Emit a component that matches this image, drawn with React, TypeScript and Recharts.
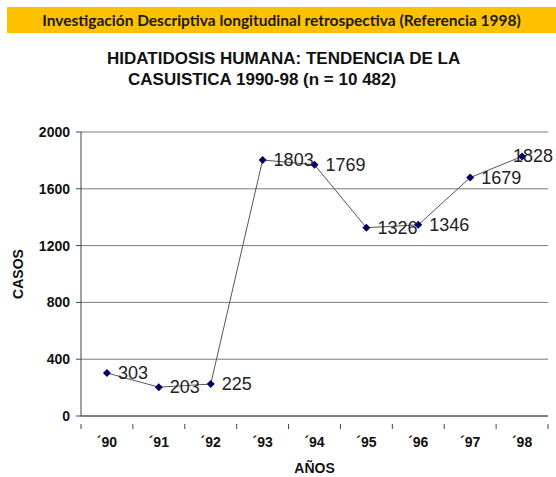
import { LineChart, Line, XAxis, YAxis, CartesianGrid, LabelList } from 'recharts'

const years = ['´90', '´91', '´92', '´93', '´94', '´95', '´96', '´97', '´98']
const cases = [303, 203, 225, 1803, 1769, 1326, 1346, 1679, 1828]
const yTicks = [0, 400, 800, 1200, 1600, 2000]

const data = years.map((year, i) => ({ year, cases: cases[i] }))

const axisFont = 'Liberation Sans, Arial, sans-serif'

function Diamond(props: any) {
  const { cx, cy } = props
  if (cx == null || cy == null) return null
  const r = 4
  return (
    <polygon
      points={`${cx},${cy - r} ${cx + r},${cy} ${cx},${cy + r} ${cx - r},${cy}`}
      fill="#000066"
    />
  )
}

function YearTick(props: any) {
  const { x, y, payload, index, width } = props
  const half = (width || 467) / years.length / 2
  const last = index === years.length - 1
  return (
    <g>
      <line x1={x - half} y1={y} x2={x - half} y2={y + 5} stroke="#444" />
      {last && <line x1={x + half} y1={y} x2={x + half} y2={y + 5} stroke="#444" />}
      <text x={x} y={y + 23} textAnchor="middle" fontFamily={axisFont} fontWeight="bold" fontSize={14} fill="#111">
        {payload.value}
      </text>
    </g>
  )
}

// value label to the right of the point, kept inside the chart on the far right
function ValueLabel(props: any) {
  const { x, y, value } = props
  if (x == null || y == null) return null
  const text = String(value)
  const w = text.length * 10
  let tx = x + 11
  if (tx + w > 553) tx = 553 - w
  return (
    <text x={tx} y={y} dy={6} fontFamily={axisFont} fontSize={18} fill="#222">
      {text}
    </text>
  )
}

export default function App() {
  return (
    <div style={{ position: 'absolute', left: 0, top: 0, width: 556, height: 477, background: '#fff' }}>
      <div
        style={{
          position: 'absolute',
          left: 7,
          top: 7,
          width: 549,
          height: 26,
          background: '#FFC000',
          fontFamily: 'Lato, sans-serif',
          fontWeight: 'bold',
          fontSize: 15.5,
          color: '#1a1a1a',
          display: 'flex',
          alignItems: 'center',
          justifyContent: 'center',
        }}
      >
        Investigación Descriptiva longitudinal retrospectiva (Referencia 1998)
      </div>
      <div
        style={{
          position: 'absolute',
          left: 107,
          top: 49,
          fontFamily: axisFont,
          fontWeight: 'bold',
          fontSize: 17,
          color: '#111',
          whiteSpace: 'nowrap',
        }}
      >
        HIDATIDOSIS HUMANA: TENDENCIA DE LA
      </div>
      <div
        style={{
          position: 'absolute',
          left: 128,
          top: 70,
          fontFamily: axisFont,
          fontWeight: 'bold',
          fontSize: 17,
          color: '#111',
          whiteSpace: 'nowrap',
        }}
      >
        CASUISTICA 1990-98 (n = 10 482)
      </div>
      <LineChart
        width={556}
        height={477}
        data={data}
        margin={{ top: 132, right: 8, left: 0, bottom: 0 }}
        style={{ position: 'absolute', left: 0, top: 0 }}
      >
        <CartesianGrid vertical={false} stroke="#7a7a7a" strokeWidth={1} />
        <XAxis
          dataKey="year"
          scale="band"
          height={61}
          stroke="#444"
          tickLine={false}
          tick={<YearTick />}
          interval={0}
          label={{ value: 'AÑOS', position: 'insideBottom', offset: 4, fontFamily: axisFont, fontWeight: 'bold', fontSize: 14, fill: '#111' }}
        />
        <YAxis
          width={81}
          domain={[0, 2000]}
          ticks={yTicks}
          interval={0}
          stroke="#444"
          tickSize={5}
          tickMargin={6}
          tick={{ fontFamily: axisFont, fontWeight: 'bold', fontSize: 14, fill: '#111' }}
          label={{ value: 'CASOS', angle: -90, position: 'insideLeft', offset: 18, fontFamily: axisFont, fontWeight: 'bold', fontSize: 14, fill: '#111', style: { textAnchor: 'middle' } }}
        />
        <YAxis yAxisId="border" orientation="right" width={0} tick={false} tickLine={false} stroke="#aaa" domain={[0, 2000]} />
        <Line
          dataKey="cases"
          stroke="#555"
          strokeWidth={1}
          dot={<Diamond />}
          activeDot={false}
          isAnimationActive={false}
        >
          <LabelList dataKey="cases" content={<ValueLabel />} />
        </Line>
      </LineChart>
    </div>
  )
}
